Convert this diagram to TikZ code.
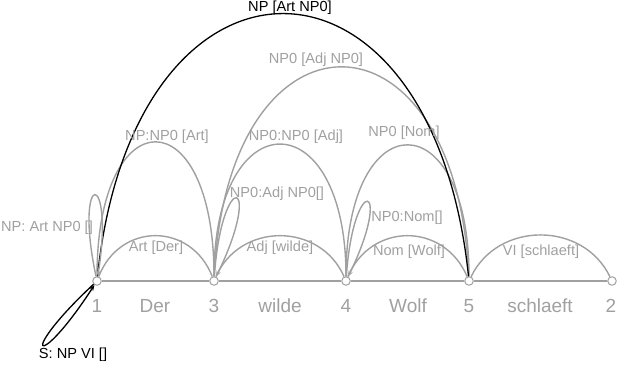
\documentclass[tikz,border=0pt]{standalone}
\usepackage{fontspec}
\setmainfont{Liberation Sans}
\usetikzlibrary{arrows.meta}
\definecolor{chartgray}{RGB}{160,160,160}

\begin{document}
\begin{tikzpicture}[x=1pt, y=1pt,
  vertex/.style={circle, draw=chartgray, fill=white, line width=1pt,
    inner sep=0pt, minimum size=8.5pt},
  edge/.style={draw=chartgray, line width=1.4pt},
  doneedge/.style={draw=black, line width=1.3pt},
  selfloop/.style={-{Stealth[length=6pt, width=4.5pt]}},
  edgelabel/.style={font=\fontsize{14.6}{17}\selectfont, text=chartgray, inner sep=0pt},
  wordlabel/.style={font=\fontsize{19}{21}\selectfont, text=chartgray, inner sep=0pt},
]
  \useasboundingbox (0,0) rectangle (617,365);
  % chart vertices
  \node[vertex] (n1) at (97,84) {};
  \node[vertex] (n3) at (214,84) {};
  \node[vertex] (n4) at (346,84) {};
  \node[vertex] (n5) at (469,84) {};
  \node[vertex] (n2) at (612,84) {};
  \draw[edge] (n1) -- (n3) -- (n4) -- (n5) -- (n2);
  % vertex and word labels
  \node[wordlabel] (w1) at (97,59) {1};
  \node[wordlabel] (wder) at (155,59) {Der};
  \node[wordlabel] (w3) at (214,59) {3};
  \node[wordlabel] (wwilde) at (280,59) {wilde};
  \node[wordlabel] (w4) at (346,59) {4};
  \node[wordlabel] (wwolf) at (408,59) {Wolf};
  \node[wordlabel] (w5) at (469,59) {5};
  \node[wordlabel] (wschlaeft) at (540,59) {schlaeft};
  \node[wordlabel] (w2) at (611,59) {2};
  % lexical edges
  \draw[edge] (n1) .. controls +(23,59) and +(-23,59) .. (n3);
  \draw[edge] (n3) .. controls +(26,59) and +(-26,59) .. (n4);
  \draw[edge] (n4) .. controls +(25,59) and +(-25,59) .. (n5);
  \draw[edge] (n5) .. controls +(29,60) and +(-29,60) .. (n2);
  \node[edgelabel] (lart) at (156,117) {Art [Der]};
  \node[edgelabel] (ladj) at (280,117) {Adj [wilde]};
  \node[edgelabel] (lnom) at (409,113) {Nom [Wolf]};
  \node[edgelabel] (lvi) at (541,113) {VI [schlaeft]};
  % phrase edges
  \draw[edge] (n1) .. controls +(0,184) and +(0,184) .. (n3);
  \draw[edge] (n3) .. controls +(0,181) and +(0,181) .. (n4);
  \draw[edge] (n4) .. controls +(0,180) and +(0,180) .. (n5);
  \draw[edge] (n3) .. controls +(13,284) and +(-13,284) .. (n5);
  \draw[doneedge] (n1) .. controls +(37,355) and +(-37,355) .. (n5);
  \node[edgelabel] (lnpart) at (167,228) {NP:NP0 [Art]};
  \node[edgelabel] (lnpadj) at (296,228) {NP0:NP0 [Adj]};
  \node[edgelabel] (lnpnom) at (404,232) {NP0 [Nom]};
  \node[edgelabel] (lnpadjnp) at (316,305) {NP0 [Adj NP0]};
  \node[edgelabel, text=black] (lnp) at (290,357) {NP [Art NP0]};
  % empty edges
  \draw[edge, selfloop] (n1) .. controls +(102:115) and +(81:115) .. (n1);
  \draw[edge, selfloop] (n3) .. controls +(86:115) and +(64:115) .. (n3);
  \draw[edge, selfloop] (n4) .. controls +(86:110) and +(64:110) .. (n4);
  \draw[doneedge, selfloop] (n1) .. controls +(223:111) and +(237:111) .. (n1);
  \node[edgelabel] (lnpempty) at (47,137) {NP: Art NP0 []};
  \node[edgelabel] (ladjempty) at (277,171) {NP0:Adj NP0[]};
  \node[edgelabel] (lnomempty) at (407,147) {NP0:Nom[]};
  \node[edgelabel, text=black] (ls) at (73,10) {S: NP VI []};
\end{tikzpicture}
\end{document}
